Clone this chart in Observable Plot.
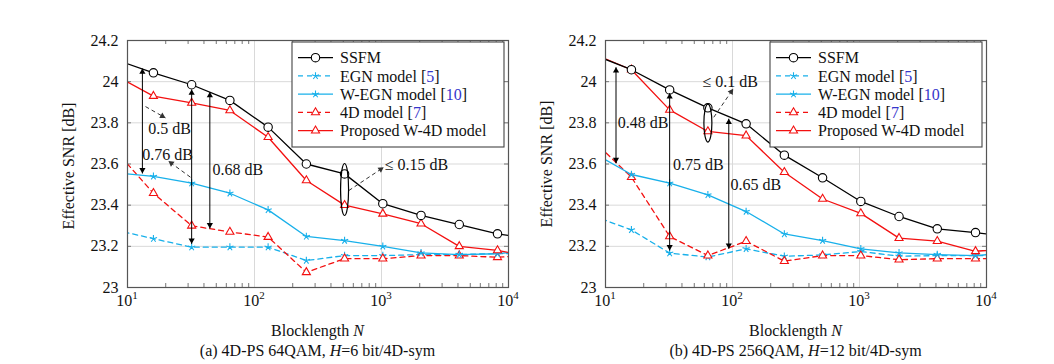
<!DOCTYPE html>
<html><head><meta charset="utf-8">
<script src="https://cdn.jsdelivr.net/npm/d3@7"></script>
<script src="https://cdn.jsdelivr.net/npm/@observablehq/plot@0.6"></script>
<style>
body{margin:0;background:#fff;}
#wrap{position:relative;width:1054px;height:364px;overflow:hidden;background:#fff;}
.panel{position:absolute;top:0;}
</style></head><body><div id="wrap"></div>
<script>
// ---------- data ----------
const N = [8, 16, 32, 64, 128, 256, 512, 1024, 2048, 4096, 8192, 16384];

// (a) 4D-PS 64QAM
const ssfmA  = [24.108, 24.043, 23.985, 23.909, 23.779, 23.600, 23.552, 23.407, 23.350, 23.306, 23.261, 23.233];
const egnA   = [23.280, 23.237, 23.196, 23.196, 23.196, 23.131, 23.155, 23.155, 23.160, 23.160, 23.165, 23.165];
const wegnA  = [23.558, 23.540, 23.507, 23.458, 23.377, 23.248, 23.228, 23.200, 23.168, 23.160, 23.164, 23.185];
const fourDA = [23.667, 23.458, 23.300, 23.270, 23.245, 23.074, 23.140, 23.140, 23.155, 23.155, 23.147, 23.157];
const w4dA   = [24.030, 23.930, 23.897, 23.860, 23.730, 23.520, 23.400, 23.358, 23.310, 23.200, 23.180, 23.145];

// (b) 4D-PS 256QAM
const ssfmB  = [24.132, 24.058, 23.960, 23.873, 23.795, 23.643, 23.533, 23.418, 23.345, 23.285, 23.267, 23.243];
const egnB   = [23.348, 23.280, 23.167, 23.148, 23.188, 23.152, 23.158, 23.175, 23.152, 23.155, 23.155, 23.155];
const wegnB  = [23.654, 23.549, 23.507, 23.450, 23.369, 23.260, 23.228, 23.188, 23.168, 23.160, 23.155, 23.170];
const fourDB = [23.714, 23.536, 23.248, 23.155, 23.225, 23.128, 23.155, 23.155, 23.135, 23.140, 23.140, 23.140];
const w4dB   = [24.136, 24.058, 23.863, 23.758, 23.738, 23.560, 23.430, 23.360, 23.240, 23.225, 23.176, 23.190];

const seriesNames = ["SSFM", "EGN model", "W-EGN model", "4D model", "Proposed W-4D model"];
const seriesRefs  = ["", "5", "10", "7", ""];

const xTicks = [10, 100, 1000, 10000];
const xTickExp = ["1", "2", "3", "4"];
const yTicks = [23, 23.2, 23.4, 23.6, 23.8, 24, 24.2];
const xGrid = [100, 1000];
const yGrid = [23.2, 23.4, 23.6, 23.8, 24];
const yLabel = "Effective SNR [dB]";

// annotations (a)
const vArrowsA = [
  {x: 13.1, y1: 24.064, y2: 23.554},
  {x: 32,   y1: 23.962, y2: 23.212},
  {x: 44.5, y1: 23.950, y2: 23.287}
];
const dArrowsA = [
  {x1: 13.86, y1: 23.879, x2: 19.9, y2: 23.824},
  {x1: 31.3,  y1: 23.536, x2: 21.0, y2: 23.614},
  {x1: 553,   y1: 23.471, x2: 1041, y2: 23.584}
];
const labelsA = [
  {x: 14.6,  y: 23.771, text: "0.5 dB"},
  {x: 13.05, y: 23.645, text: "0.76 dB"},
  {x: 46.7,  y: 23.573, text: "0.68 dB"},
  {x: 1062,  y: 23.598, text: "≤ 0.15 dB"}
];
const ellipseA = [{x: 512, y: 23.476}];

// annotations (b)
const vArrowsB = [
  {x: 12.1, y1: 24.070, y2: 23.604},
  {x: 32,   y1: 23.944, y2: 23.180},
  {x: 93.5, y1: 23.820, y2: 23.188}
];
const dArrowsB = [
  {x1: 71.2, y1: 23.827, x2: 101.3, y2: 23.965}
];
const labelsB = [
  {x: 12.5, y: 23.80,  text: "0.48 dB"},
  {x: 34,   y: 23.598, text: "0.75 dB"},
  {x: 96.4, y: 23.50,  text: "0.65 dB"},
  {x: 58,   y: 24.00,  text: "≤ 0.1 dB"}
];
const ellipseB = [{x: 64, y: 23.799}];

// ---------- layout & style ----------
const FONT = '"Liberation Serif","DejaVu Serif",serif';
const CYAN = "#18b0ea", RED = "#f31010", BLUE = "#3535cc";
const W = 527, H = 364, ML = 127, MR = 19, MT = 40, MB = 77;
const plotW = W - ML - MR, plotH = H - MT - MB;
const pxPerDec = plotW / 3, pxPerUnit = plotH / 1.2;

const asterisk5 = {draw(ctx, size) {
  const R = Math.sqrt(size / Math.PI);
  for (let i = 0; i < 5; i++) {
    const a = i * 2 * Math.PI / 5;
    ctx.moveTo(0, 0); ctx.lineTo(R * Math.sin(a), -R * Math.cos(a));
  }
}};
function ellipseSymbol(rx, ry) {
  const k = 0.5523;
  return {draw(ctx) {
    ctx.moveTo(rx, 0);
    ctx.bezierCurveTo(rx, ry * k, rx * k, ry, 0, ry);
    ctx.bezierCurveTo(-rx * k, ry, -rx, ry * k, -rx, 0);
    ctx.bezierCurveTo(-rx, -ry * k, -rx * k, -ry, 0, -ry);
    ctx.bezierCurveTo(rx * k, -ry, rx, -ry * k, rx, 0);
    ctx.closePath();
  }};
}
const styles = [
  {stroke: "#000", dash: null,  symbol: "circle",  r: 4.2, fill: "#fff"},
  {stroke: CYAN,   dash: "5,4", symbol: asterisk5, r: 3.8, fill: "none"},
  {stroke: CYAN,   dash: null,  symbol: asterisk5, r: 3.8, fill: "none"},
  {stroke: RED,    dash: "5,4", symbol: "triangle", r: 3.0, fill: "#fff"},
  {stroke: RED,    dash: null,  symbol: "triangle", r: 3.0, fill: "#fff"}
];
const drawOrder = [1, 3, 2, 4, 0];

const HEAD_R = 2.3;
const HEAD_BACK = 2 * Math.sqrt(Math.PI * HEAD_R * HEAD_R / (Math.sqrt(3) * 3));
function head(x1, y1, x2, y2) {
  const sx = (Math.log10(x2) - Math.log10(x1)) * pxPerDec;
  const sy = -(y2 - y1) * pxPerUnit;
  const L = Math.hypot(sx, sy), ux = sx / L, uy = sy / L;
  return {
    x: 10 ** (Math.log10(x2) - ux * HEAD_BACK / pxPerDec),
    y: y2 + uy * HEAD_BACK / pxPerUnit,
    rot: Math.atan2(sx, -sy) * 180 / Math.PI
  };
}

function makePanel(values, vArrows, dArrows, labels, ellipse, ery, capParts, yLabelY) {
  const rows = [];
  values.forEach((vals, s) => vals.forEach((v, i) => rows.push({s, N: N[i], v})));
  const inDomain = d => d.N >= 10 && d.N <= 10000;
  const minor = [10, 100, 1000].flatMap(d => [2,3,4,5,6,7,8,9].map(k => k * d));

  const vHeads = vArrows.flatMap(a => [head(a.x, a.y2, a.x, a.y1), head(a.x, a.y1, a.x, a.y2)]);
  const dHeads = dArrows.map(a => head(a.x1, a.y1, a.x2, a.y2));

  const marks = [
    Plot.ruleY(yGrid, {stroke: "#d9d9d9", strokeWidth: 1}),
    Plot.ruleX(xGrid, {stroke: "#d9d9d9", strokeWidth: 1}),
    Plot.ruleX(minor, {stroke: "#777", insetTop: plotH - 4}),
    Plot.ruleX(minor, {stroke: "#777", insetBottom: plotH - 4}),
    Plot.ruleY(yTicks, {stroke: "#777", insetRight: plotW - 4}),
    Plot.ruleY(yTicks, {stroke: "#777", insetLeft: plotW - 4})
  ];
  for (const s of drawOrder) {
    const st = styles[s];
    const data = rows.filter(d => d.s === s);
    marks.push(Plot.line(data, {x: "N", y: "v", stroke: st.stroke, strokeWidth: 1.3,
      strokeDasharray: st.dash, clip: true}));
    marks.push(Plot.dot(data.filter(inDomain), {x: "N", y: "v", symbol: st.symbol, r: st.r,
      fill: st.fill, stroke: st.stroke, strokeWidth: 1.1}));
  }
  marks.push(
    Plot.link(vArrows, {x1: "x", x2: "x", y1: "y1", y2: "y2", stroke: "#000", strokeWidth: 1}),
    Plot.dot(vHeads, {x: "x", y: "y", rotate: "rot", symbol: "triangle", r: HEAD_R, fill: "#000", stroke: "none"}),
    Plot.link(dArrows, {x1: "x1", y1: "y1", x2: "x2", y2: "y2", stroke: "#333", strokeWidth: 1, strokeDasharray: "4,3"}),
    Plot.dot(dHeads, {x: "x", y: "y", rotate: "rot", symbol: "triangle", r: HEAD_R, fill: "#333", stroke: "none"}),
    Plot.dot(ellipse, {x: "x", y: "y", symbol: ellipseSymbol(4, ery), r: 4, fill: "none", stroke: "#000", strokeWidth: 1.2}),
    Plot.text(labels, {x: "x", y: "y", text: "text", textAnchor: "start", fontSize: 16, fill: "#111"}),
    Plot.frame({stroke: "#555", strokeWidth: 1.2}),
    Plot.axisY({ticks: yTicks, tickSize: 0, tickPadding: 9, tickFormat: d => String(d), label: null, fontSize: 16})
  );

  const chart = Plot.plot({
    width: W, height: H,
    marginLeft: ML, marginRight: MR, marginTop: MT, marginBottom: MB,
    style: {fontFamily: FONT, fontSize: "16px", background: "transparent", color: "#111"},
    x: {type: "log", domain: [10, 10000], axis: null},
    y: {domain: [23, 24.2], axis: null, label: null},
    marks
  });

  const svg = d3.select(chart);
  const xs = chart.scale("x");
  const g = svg.append("g").attr("font-family", FONT).attr("font-size", 16).attr("fill", "#111")
    .attr("text-anchor", "start");
  xTicks.forEach((t, i) => {
    const tx = g.append("text").attr("x", xs.apply(t)).attr("y", 306).attr("text-anchor", "middle");
    tx.append("tspan").text("10");
    tx.append("tspan").attr("dy", -7).attr("font-size", 11).text(xTickExp[i]);
  });
  g.append("text").attr("transform", `translate(74,${yLabelY}) rotate(-90)`)
    .attr("text-anchor", "middle").text(yLabel);
  const cx = ML + plotW / 2;
  const xl = g.append("text").attr("x", cx).attr("y", 336).attr("text-anchor", "middle");
  xl.append("tspan").text("Blocklength ");
  xl.append("tspan").attr("font-style", "italic").text("N");
  const cap = g.append("text").attr("x", cx).attr("y", 355.5).attr("text-anchor", "middle");
  capParts.forEach(p => cap.append("tspan").attr("font-style", p.italic ? "italic" : null).text(p.t));

  // legend
  const L = g.append("g");
  L.append("rect").attr("x", 292).attr("y", 42).attr("width", 212).attr("height", 105)
    .attr("fill", "#fff").attr("stroke", "#444").attr("stroke-width", 1.1);
  seriesNames.forEach((name, i) => {
    const st = styles[i];
    const yc = 57.7 + i * 18.25;
    L.append("line").attr("x1", 298).attr("x2", 333).attr("y1", yc).attr("y2", yc)
      .attr("stroke", st.stroke).attr("stroke-width", 1.3).attr("stroke-dasharray", st.dash);
    const symType = st.symbol === "circle" ? d3.symbolCircle : st.symbol === "triangle" ? d3.symbolTriangle : st.symbol;
    L.append("path").attr("transform", `translate(315.5,${yc})`)
      .attr("d", d3.symbol(symType, Math.PI * st.r * st.r)())
      .attr("fill", st.fill).attr("stroke", st.stroke).attr("stroke-width", 1.1);
    const t = L.append("text").attr("x", 340).attr("y", yc + 5.6).attr("text-anchor", "start");
    if (seriesRefs[i]) {
      t.append("tspan").text(name + " [");
      t.append("tspan").attr("fill", BLUE).text(seriesRefs[i]);
      t.append("tspan").text("]");
    } else t.text(name);
  });
  return chart;
}

const wrap = document.getElementById("wrap");
const pa = document.createElement("div"); pa.className = "panel"; pa.style.left = "0px";
const pb = document.createElement("div"); pb.className = "panel"; pb.style.left = "478px";
pa.appendChild(makePanel([ssfmA, egnA, wegnA, fourDA, w4dA], vArrowsA, dArrowsA, labelsA, ellipseA, 26,
  [{t: "(a) 4D-PS 64QAM, "}, {t: "H", italic: true}, {t: "=6 bit/4D-sym"}], 166));
pb.appendChild(makePanel([ssfmB, egnB, wegnB, fourDB, w4dB], vArrowsB, dArrowsB, labelsB, ellipseB, 19,
  [{t: "(b) 4D-PS 256QAM, "}, {t: "H", italic: true}, {t: "=12 bit/4D-sym"}], 164));
wrap.appendChild(pa); wrap.appendChild(pb);
</script></body></html>
